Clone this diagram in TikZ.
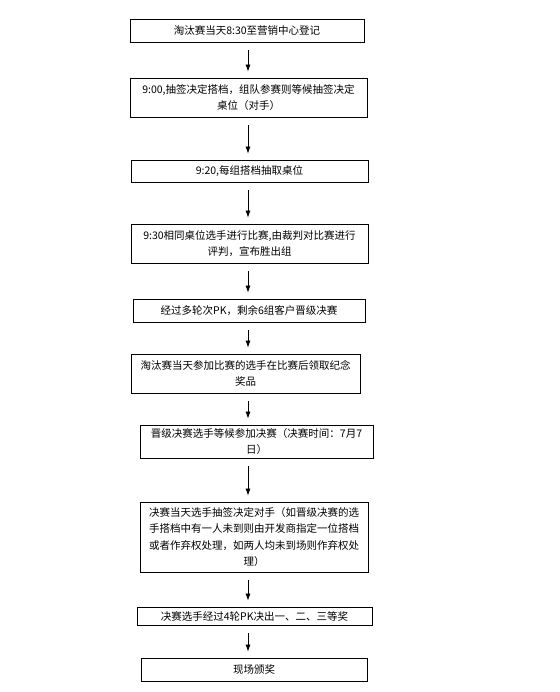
\documentclass[tikz,border=0pt]{standalone}
\usepackage{fontspec}
\newfontfamily\cjk{Noto Sans CJK SC}
\usetikzlibrary{arrows.meta}
\begin{document}
\begin{tikzpicture}[x=1pt,y=-1pt,
  stepbox/.style={draw=black,line width=0.8pt,inner sep=0pt,align=center,
    font=\cjk\fontsize{10.5}{16.5}\selectfont,anchor=center},
  arr/.style={draw=black,line width=0.7pt,-{Latex[length=7pt,width=5pt]},
    shorten <=8pt,shorten >=6pt}]
\useasboundingbox (0,0) rectangle (559,692);
\fill[white] (0,0) rectangle (559,692);
\coordinate (ax) at (248,0);
\node[stepbox,minimum width=234pt,minimum height=23pt] (b1) at (247,30.5) {淘汰赛当天8:30至营销中心登记};
\node[stepbox,minimum width=237pt,minimum height=39pt] (b2) at (248.5,97.5) {9:00,抽签决定搭档，组队参赛则等候抽签决定\\桌位（对手）};
\node[stepbox,minimum width=237pt,minimum height=22pt] (b3) at (249.5,171) {9:20,每组搭档抽取桌位};
\node[stepbox,minimum width=237pt,minimum height=39pt] (b4) at (249.5,243.5) {9:30相同桌位选手进行比赛,由裁判对比赛进行\\评判，宣布胜出组};
\node[stepbox,minimum width=232pt,minimum height=23pt] (b5) at (249,310.5) {经过多轮次PK，剩余6组客户晋级决赛};
\node[stepbox,minimum width=229pt,minimum height=39pt] (b6) at (245.5,373.5) {淘汰赛当天参加比赛的选手在比赛后领取纪念\\奖品};
\node[stepbox,minimum width=233pt,minimum height=33pt] (b7) at (256.5,441.5) {晋级决赛选手等候参加决赛（决赛时间：7月7\\日）};
\node[stepbox,minimum width=228pt,minimum height=70pt] (b8) at (254,537) {决赛当天选手抽签决定对手（如晋级决赛的选\\手搭档中有一人未到则由开发商指定一位搭档\\或者作弃权处理，如两人均未到场则作弃权处\\理）};
\node[stepbox,minimum width=235pt,minimum height=18pt] (b9) at (254.5,616) {决赛选手经过4轮PK决出一、二、三等奖};
\node[stepbox,minimum width=226pt,minimum height=23pt] (b10) at (254,669.5) {现场颁奖};
\foreach \a/\b in {b1/b2,b2/b3,b3/b4,b4/b5,b5/b6,b6/b7,b7/b8,b8/b9,b9/b10}
  \draw[arr] (\a.south -| ax) -- (\b.north -| ax);
\end{tikzpicture}
\end{document}
